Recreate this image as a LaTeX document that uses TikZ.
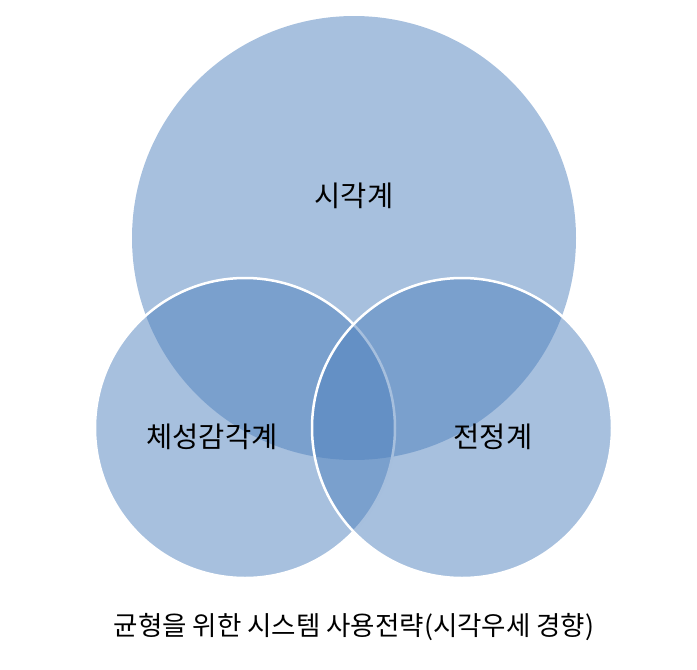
\documentclass[tikz,border=0pt]{standalone}
\usepackage{fontspec}
\newfontfamily\kr{Noto Sans CJK KR}
\begin{document}
\begin{tikzpicture}[x=1pt,y=-1pt,
  circ/.style={fill={rgb,255:red,79;green,129;blue,189},fill opacity=0.5},
  lbl/.style={font=\kr\fontsize{28.5}{32}\selectfont}]
\useasboundingbox (0,0) rectangle (697,670);
\fill[circ] (354,238) circle (222);
\draw[circ,draw=white,draw opacity=1,line width=2.5pt] (245,428) circle (150);
\draw[circ,draw=white,draw opacity=1,line width=2.5pt] (462,428) circle (150);
\node[lbl] (a) at (354,196) {시각계};
\node[lbl] (b) at (212,437) {체성감각계};
\node[lbl] (c) at (493,437) {전정계};
\node[font=\kr\fontsize{26.5}{30}\selectfont] (d) at (354,627) {균형을 위한 시스템 사용전략(시각우세 경향)};
\end{tikzpicture}
\end{document}
